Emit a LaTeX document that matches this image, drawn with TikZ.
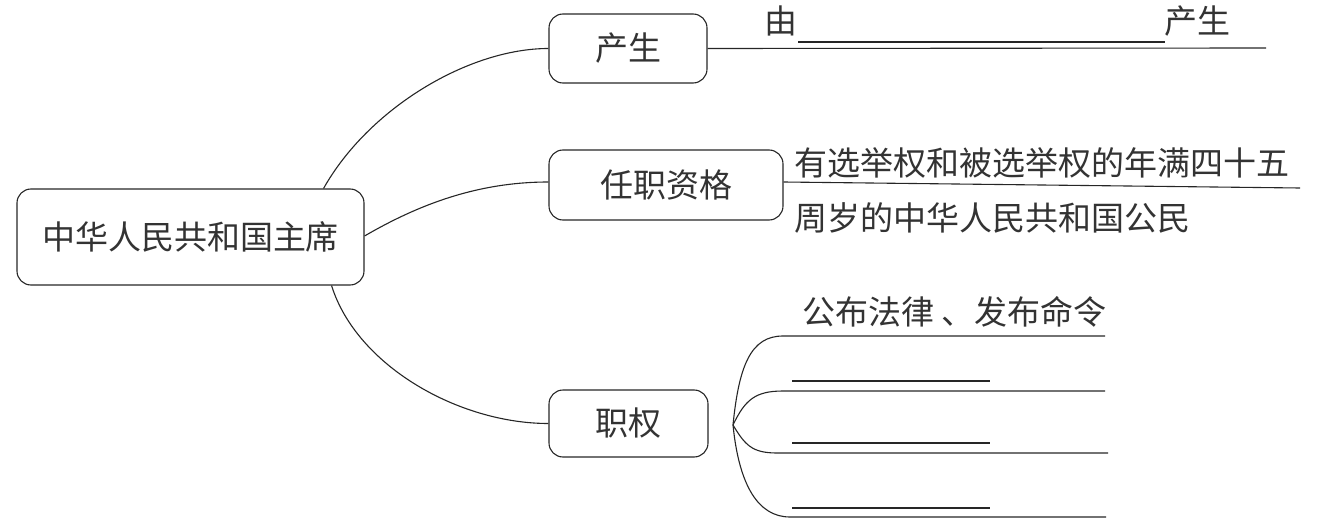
\documentclass[tikz,border=0pt]{standalone}
\usepackage{fontspec}
\setmainfont{Noto Sans CJK SC}
\begin{document}
\begin{tikzpicture}[x=1pt,y=-1pt,
  ln/.style={draw=black!85,line width=1.1pt},
  box/.style={ln,rounded corners=14pt,inner sep=0pt,align=center,font=\fontsize{33}{38}\selectfont,text=black!80},
  txt/.style={inner sep=0pt,font=\fontsize{33}{38}\selectfont,text=black!80}]
\useasboundingbox (0,0) rectangle (1334,527);
% boxes
\node[box,minimum width=347pt,minimum height=96pt] (main) at (190.5,237) {中华人民共和国主席};
\node[box,minimum width=158pt,minimum height=69pt] (chan) at (628,48.5) {产生};
\node[box,minimum width=234pt,minimum height=70pt] (ren) at (666,185) {任职资格};
\node[box,minimum width=159pt,minimum height=67pt] (zhi) at (628.5,423.5) {职权};
% connectors from main
\coordinate (m1) at ([xshift=-41pt]main.north east);
\coordinate (m2) at ([yshift=1pt]main.east);
\coordinate (m3) at ([xshift=-33pt]main.south east);
\draw[ln] (m1) .. controls +(45,-80) and +(-80,0) .. (chan.west);
\draw[ln] (m2) .. controls +(55,-32) and +(-70,0) .. ([yshift=3pt]ren.west);
\draw[ln] (m3) .. controls +(25,80) and +(-90,0) .. (zhi.west);
% 产生 branch
\coordinate (c1) at (1266,48);
\draw[ln] (chan.east) -- (c1);
\node[txt] (you) at (781,21) {由};
\coordinate (b1s) at (798,42);
\coordinate (b1e) at (1165,42);
\draw[ln] (b1s) -- (b1e);
\node[txt,anchor=west] (chs) at (1164,21) {产生};
% 任职资格 branch
\coordinate (r1) at (1300,188);
\draw[ln] ([yshift=3pt]ren.east) -- (r1);
\node[txt,anchor=west] (q1) at (794,163) {有选举权和被选举权的年满四十五};
\node[txt,anchor=west] (q2) at (794,218) {周岁的中华人民共和国公民};
% 职权 branch
\coordinate (b) at (733,425);
\coordinate (l1s) at (783,336); \coordinate (l1e) at (1105,336);
\coordinate (l2s) at (783,391); \coordinate (l2e) at (1105,391);
\coordinate (l3s) at (777,453); \coordinate (l3e) at (1108,453);
\coordinate (l4s) at (790,517); \coordinate (l4e) at (1106,517);
\draw[ln] (b) .. controls +(6,-60) and +(-32,0) .. (l1s) -- (l1e);
\draw[ln] (b) .. controls +(12,-25) and +(-28,0) .. (l2s) -- (l2e);
\draw[ln] (b) .. controls +(12,20) and +(-25,0) .. (l3s) -- (l3e);
\draw[ln] (b) .. controls +(6,60) and +(-32,0) .. (l4s) -- (l4e);
\node[txt,anchor=west] (gb) at (802,312) {公布法律 、发布命令};
\coordinate (s1s) at (792,381); \coordinate (s1e) at (990,381);
\coordinate (s2s) at (792,443); \coordinate (s2e) at (990,443);
\coordinate (s3s) at (792,508); \coordinate (s3e) at (990,508);
\draw[ln] (s1s) -- (s1e);
\draw[ln] (s2s) -- (s2e);
\draw[ln] (s3s) -- (s3e);
\end{tikzpicture}
\end{document}
